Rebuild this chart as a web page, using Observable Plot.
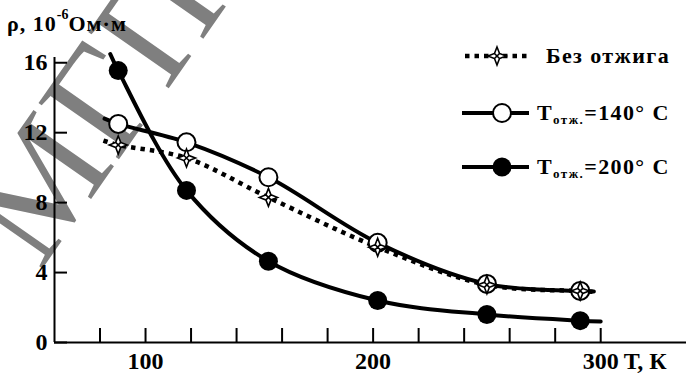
<!DOCTYPE html>
<html><head><meta charset="utf-8">
<script src="https://cdn.jsdelivr.net/npm/d3@7"></script>
<script src="https://cdn.jsdelivr.net/npm/@observablehq/plot@0.6"></script>
<style>
body{margin:0;background:#fff;}
#wrap{position:relative;width:686px;height:374px;overflow:hidden;background:#fff;}
#title{position:absolute;left:7px;top:11px;font:bold 22px "Liberation Serif",serif;letter-spacing:1px;color:#000;white-space:nowrap;}
#title sup{font-size:14px;position:relative;top:-3px;vertical-align:top;line-height:1;letter-spacing:0;}
</style></head><body><div id="wrap"><div id="title"></div></div>
<script>
// ---- data ----
const yTitleMain = "ρ, 10";
const yTitleSup = "-6";
const yTitleUnit = "Ом·м";
const xAxisTitle = "Т, К";
const yTicks = [0, 4, 8, 12, 16];
const xTickMarks = [80, 100, 120, 140, 160, 180, 200, 220, 240, 260, 280, 300];
const xTickLabels = [100, 200, 300];
const seriesNames = ["Без отжига", "Тотж.=140° С", "Тотж.=200° С"];
const subscript = "отж.";
const temperatures = [88, 118, 154, 202, 250, 291];
const rhoNoAnneal = [11.3, 10.55, 8.3, 5.45, 3.3, 2.95];
const rho140 = [12.5, 11.45, 9.45, 5.7, 3.35, 2.95];
const rho200 = [15.55, 8.7, 4.65, 2.4, 1.6, 1.25];
// where each drawn curve starts and ends beyond the measured points
const curveStart = [[81.5, 11.55], [82, 12.8], [84.5, 16.5]];
const curveEnd = [[297.5, 2.9], [297, 2.92], [300, 1.2]];
const xDomain = [60, 337.7];
const yDomain = [0, 16.3];
const watermark = "МГПУ";

// ---- build tables ----
const seriesValues = [rhoNoAnneal, rho140, rho200];
const points = seriesValues.map((vals, s) => temperatures.map((t, i) => ({T: t, rho: vals[i], s})));
const curves = seriesValues.map((vals, s) => [
  {T: curveStart[s][0], rho: curveStart[s][1]},
  ...points[s],
  {T: curveEnd[s][0], rho: curveEnd[s][1]}
]);

const star4 = {
  draw(ctx, size) {
    const r = Math.sqrt(size / Math.PI);
    const k = r * 0.28;
    ctx.moveTo(0, -r); ctx.lineTo(k, -k); ctx.lineTo(r, 0); ctx.lineTo(k, k);
    ctx.lineTo(0, r); ctx.lineTo(-k, k); ctx.lineTo(-r, 0); ctx.lineTo(-k, -k);
    ctx.closePath();
    ctx.moveTo(-k, -k); ctx.lineTo(k, k);
    ctx.moveTo(k, -k); ctx.lineTo(-k, k);
  }
};

const font = "Liberation Serif";
const chart = Plot.plot({
  width: 686, height: 374,
  marginLeft: 54, marginRight: 0, marginTop: 57, marginBottom: 32,
  x: {domain: xDomain},
  y: {domain: yDomain},
  style: {fontFamily: font, fontWeight: "bold", fontSize: "24px", color: "black", background: "transparent"},
  marks: [
    Plot.ruleX([xDomain[0]], {strokeWidth: 2}),
    Plot.ruleY([0], {strokeWidth: 2}),
    Plot.axisY(yTicks, {tickSize: -13, tickPadding: 20, strokeWidth: 2, label: null, fontSize: 24}),
    Plot.axisX(xTickMarks, {tickSize: -14, strokeWidth: 2, fill: "none", label: null}),
    Plot.axisX(xTickLabels, {tickSize: 0, tickPadding: 9, label: null, fontSize: 24}),
    Plot.text([xAxisTitle], {x: xTickLabels[xTickLabels.length - 1], y: 0, text: d => d, dx: 23, dy: 9, lineAnchor: "top", textAnchor: "start", fontSize: 24}),
    Plot.line(curves[0], {x: "T", y: "rho", curve: "catmull-rom", strokeWidth: 4.5, strokeDasharray: "4.5 5", strokeLinecap: "butt"}),
    Plot.line(curves[1], {x: "T", y: "rho", curve: "catmull-rom", strokeWidth: 4}),
    Plot.line(curves[2], {x: "T", y: "rho", curve: "catmull-rom", strokeWidth: 4}),
    Plot.dot(points[1], {x: "T", y: "rho", r: 9, fill: "white", stroke: "black", strokeWidth: 2}),
    Plot.dot(points[2], {x: "T", y: "rho", r: 9.5, fill: "black"}),
    Plot.dot(points[0], {x: "T", y: "rho", r: 9, symbol: star4, fill: "white", stroke: "black", strokeWidth: 1.6})
  ]
});

const svg = d3.select(chart);
// watermark behind everything
svg.insert("text", ":first-child")
  .attr("transform", "translate(40,272) rotate(-55)")
  .attr("font-family", font).attr("font-weight", "normal").attr("font-size", 150)
  .attr("fill", "#7f7f7f").attr("text-anchor", "start")
  .text(watermark);

// legend
const lg = svg.append("g").attr("font-family", font).attr("font-weight", "bold").attr("font-size", 22)
  .attr("letter-spacing", 1.4).attr("text-anchor", "start");
const rowsY = [56, 113, 167];
seriesNames.forEach((name, s) => {
  const y = rowsY[s];
  const g = lg.append("g");
  if (s === 0) {
    g.append("line").attr("x1", 465).attr("x2", 531).attr("y1", y).attr("y2", y)
      .attr("stroke", "black").attr("stroke-width", 4.5).attr("stroke-dasharray", "4.5 5");
    g.append("path").attr("transform", `translate(497,${y})`)
      .attr("d", d3.symbol(star4, 81 * Math.PI)()).attr("fill", "white").attr("stroke", "black").attr("stroke-width", 1.6);
    g.append("text").attr("x", 546).attr("y", y + 7).text(name);
  } else {
    g.append("line").attr("x1", 462).attr("x2", 529).attr("y1", y).attr("y2", y)
      .attr("stroke", "black").attr("stroke-width", 4);
    g.append("circle").attr("cx", 502).attr("cy", y).attr("r", s === 1 ? 9 : 9.5)
      .attr("fill", s === 1 ? "white" : "black").attr("stroke", "black").attr("stroke-width", s === 1 ? 2 : 0);
    const [head, rest] = name.split(subscript);
    const t = g.append("text").attr("x", 537).attr("y", y + 7);
    t.append("tspan").text(head);
    t.append("tspan").attr("font-size", 13).attr("dy", 4).text(subscript);
    t.append("tspan").attr("font-size", 22).attr("dy", -4).text(rest);
  }
});

document.getElementById("wrap").prepend(chart);
chart.style.position = "absolute"; chart.style.left = "0"; chart.style.top = "0";
const title = document.getElementById("title");
title.append(yTitleMain);
const sup = document.createElement("sup"); sup.textContent = yTitleSup; title.append(sup);
title.append(yTitleUnit);
</script></body></html>
